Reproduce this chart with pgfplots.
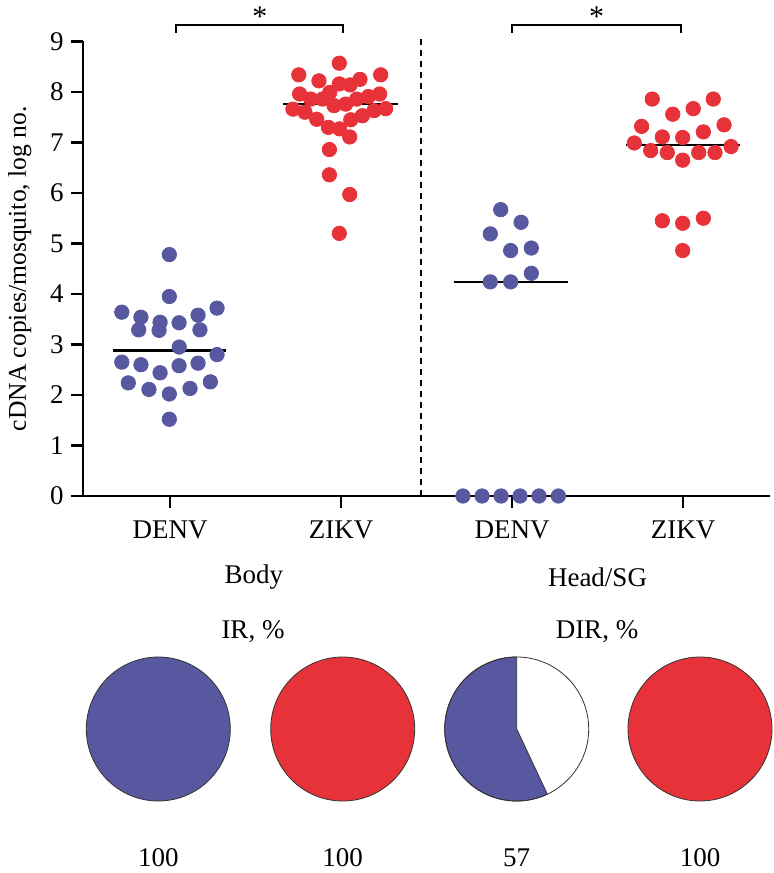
\documentclass[border=0pt]{standalone}
\usepackage{pgfplots}
\pgfplotsset{compat=1.18}
\usepackage{pgfplotstable}
\usepackage{fontspec}
\setmainfont{Liberation Serif}
\definecolor{dblue}{RGB}{88,88,160}
\definecolor{zred}{RGB}{232,50,58}

\pgfplotstableread{
x y
0.996 4.78
0.996 3.95
0.718 3.64
0.830 3.54
0.942 3.44
1.053 3.43
1.164 3.58
1.275 3.72
0.817 3.29
0.936 3.28
1.175 3.29
1.054 2.95
1.275 2.80
0.718 2.65
0.830 2.60
0.942 2.44
1.053 2.58
1.164 2.63
0.756 2.24
0.877 2.11
0.996 2.02
1.117 2.13
1.236 2.26
0.996 1.52
}\bodydenv

\pgfplotstableread{
x y
1.990 8.57
1.753 8.34
1.871 8.22
2.232 8.34
2.111 8.25
1.990 8.16
2.053 8.14
1.758 7.96
1.934 7.99
2.226 7.96
1.823 7.86
1.891 7.86
2.092 7.86
2.160 7.91
1.959 7.73
2.027 7.76
1.719 7.66
1.789 7.60
2.193 7.63
2.261 7.67
1.858 7.46
2.125 7.53
2.057 7.45
1.926 7.30
1.992 7.27
2.051 7.11
1.932 6.86
1.932 6.36
2.051 5.97
1.990 5.20
}\bodyzikv

\pgfplotstableread{
x y
2.934 5.67
3.053 5.42
2.873 5.19
2.992 4.86
3.113 4.91
3.113 4.41
2.873 4.24
2.992 4.24
2.713 0
2.825 0
2.936 0
3.047 0
3.158 0
3.271 0
}\headdenv

\pgfplotstableread{
x y
3.820 7.86
4.177 7.86
4.060 7.67
3.940 7.56
3.758 7.32
4.240 7.35
4.119 7.21
3.879 7.11
3.998 7.10
3.715 6.99
4.281 6.92
3.811 6.84
3.908 6.80
4.092 6.80
4.187 6.80
3.998 6.65
3.879 5.45
3.998 5.40
4.119 5.50
3.998 4.86
}\headzikv

\begin{document}
\begin{tikzpicture}
\useasboundingbox (0,0) rectangle (387pt,436.5pt);
% frame axis in pixel units for the pie charts
\begin{axis}[at={(0,0)}, anchor=south west, x=0.5pt, y=0.5pt,
  xmin=0, xmax=774, ymin=0, ymax=873, y dir=reverse,
  hide axis, clip=false, scale only axis,
  font=\fontsize{13.5}{16}\selectfont]
  % pie 1: DENV IR 100
  \fill[dblue] (axis cs:158.3,729) circle[radius=36pt];
  \draw[black!80, line width=0.4pt] (axis cs:158.3,729) circle[radius=36pt];
  % pie 2: ZIKV IR 100
  \fill[zred] (axis cs:342.7,729) circle[radius=36pt];
  \draw[black!80, line width=0.4pt] (axis cs:342.7,729) circle[radius=36pt];
  % pie 3: DENV DIR 57
  \fill[white] (axis cs:516.7,729) circle[radius=36pt];
  \filldraw[fill=dblue, draw=black!80, line width=0.4pt] (axis cs:516.7,729) -- ++(90:36pt) arc[start angle=90, end angle={90+3.6*57}, radius=36pt] -- cycle;
  \draw[black!80, line width=0.4pt] (axis cs:516.7,729) circle[radius=36pt];
  % pie 4: ZIKV DIR 100
  \fill[zred] (axis cs:700,729) circle[radius=36pt];
  \draw[black!80, line width=0.4pt] (axis cs:700,729) circle[radius=36pt];
  \node at (axis cs:253,632) {IR, \%};
  \node at (axis cs:597,632) {DIR, \%};
  \node at (axis cs:158.3,858) {100};
  \node at (axis cs:342.7,858) {100};
  \node at (axis cs:516.7,858) {57};
  \node at (axis cs:700,858) {100};
\end{axis}

\begin{axis}[at={(41.4pt,188.5pt)}, anchor=south west,
  x=85.5pt, y=25.25pt, scale only axis,
  xmin=0.49, xmax=4.51, ymin=0, ymax=9,
  clip=false,
  axis x line*=bottom, axis y line*=left,
  axis line style={line width=1.3pt, -},
  every tick/.style={line width=1.3pt, black},
  tick align=outside, major tick length=6pt,
  xtick={1,2,3,4}, xticklabels={DENV,ZIKV,DENV,ZIKV},
  ytick={0,1,...,9},
  font=\fontsize{13.5}{16}\selectfont,
  /pgf/number format/assume math mode=true,
  ylabel={cDNA copies/mosquito, log no.},
  ylabel style={at={(axis description cs:-0.0917,0.5)}, anchor=center, font=\fontsize{12.8}{15}\selectfont},
  xticklabel style={yshift=-3pt},
]
  % divider
  \addplot[black, line width=1pt, dash pattern=on 3pt off 2.5pt] coordinates {(2.47,0) (2.47,9.1)};
  \addplot[only marks, mark=*, mark size=3.6pt, color=dblue, mark options={draw=dblue, fill=dblue}] table[x=x,y=y] {\bodydenv};
  \addplot[only marks, mark=*, mark size=3.6pt, color=zred, mark options={draw=zred, fill=zred}] table[x=x,y=y] {\bodyzikv};
  \addplot[only marks, mark=*, mark size=3.6pt, color=dblue, mark options={draw=dblue, fill=dblue}] table[x=x,y=y] {\headdenv};
  \addplot[only marks, mark=*, mark size=3.6pt, color=zred, mark options={draw=zred, fill=zred}] table[x=x,y=y] {\headzikv};
  % means
  \addplot[black, line width=1.2pt] coordinates {(0.665,2.88) (1.33,2.88)};
  \addplot[black, line width=1.2pt] coordinates {(1.66,7.76) (2.333,7.76)};
  \addplot[black, line width=1.2pt] coordinates {(2.66,4.24) (3.325,4.24)};
  \addplot[black, line width=1.2pt] coordinates {(3.667,6.95) (4.333,6.95)};
  % significance brackets
  \addplot[black, line width=1pt] coordinates {(1.035,9.16) (1.035,9.33) (2.013,9.33) (2.013,9.16)};
  \addplot[black, line width=1pt] coordinates {(3.002,9.16) (3.002,9.33) (3.99,9.33) (3.99,9.16)};
  \node[font=\fontsize{15}{15}\selectfont] at (axis cs:1.526,9.50) {*};
  \node[font=\fontsize{15}{15}\selectfont] at (axis cs:3.495,9.50) {*};
  % group labels
  \node at (axis cs:1.49,0) [yshift=-40.5pt] {Body};
  \node at (axis cs:3.5,0) [yshift=-40.5pt] {Head/SG};
\end{axis}
\end{tikzpicture}
\end{document}
